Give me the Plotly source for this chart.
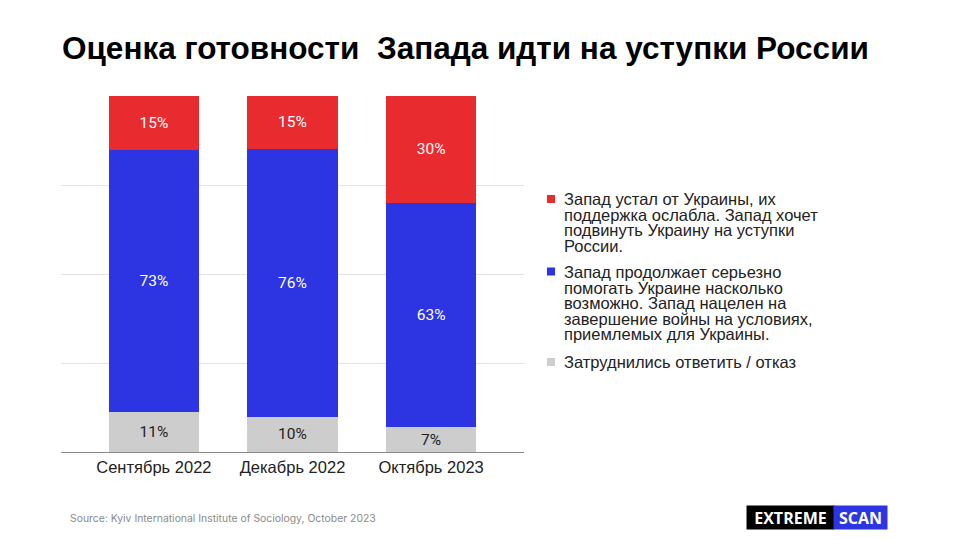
import plotly.graph_objects as go

categories = ["Сентябрь 2022", "Декабрь 2022", "Октябрь 2023"]
red_vals = [15, 15, 30]
blue_vals = [73, 76, 63]
gray_vals = [11, 10, 7]

red_lines = ["Запад устал от Украины, их", "поддержка ослабла. Запад хочет",
             "подвинуть Украину на уступки", "России."]
blue_lines = ["Запад продолжает серьезно", "помогать Украине насколько",
              "возможно. Запад нацелен на", "завершение войны на условиях,",
              "приемлемых для Украины."]
gray_lines = ["Затруднились ответить / отказ"]

RED = "#E82B2E"
BLUE = "#2D35E2"
GRAY = "#CDCDCD"

L, R, T, B = 61, 524, 96, 452
W, H = R - L, B - T


def px2x(px):
    return (px - L) / W


def py2y(py):
    return (B - py) / H


fig = go.Figure()
for lines, vals, color, tcolor in [
    (gray_lines, gray_vals, GRAY, "#222222"),
    (blue_lines, blue_vals, BLUE, "#FFFFFF"),
    (red_lines, red_vals, RED, "#FFFFFF"),
]:
    fig.add_trace(go.Bar(
        x=categories, y=vals, name=" ".join(lines),
        marker=dict(color=color, line=dict(width=0)),
        text=[f"{v}%" for v in vals], texttemplate="%{text}",
        textposition="inside", insidetextanchor="middle", textangle=0,
        textfont=dict(family="Roboto", size=15.5, color=tcolor),
        width=0.65, hoverinfo="skip", showlegend=False,
    ))

fig.update_layout(
    width=960, height=540,
    margin=dict(l=L, r=960 - R, t=T, b=540 - B, pad=0),
    paper_bgcolor="white", plot_bgcolor="white",
    barmode="stack", barnorm="percent",
    uniformtext=dict(mode=False),
    title=dict(
        text="<b>Оценка готовности  Запада идти на уступки России</b>",
        x=62 / 960, xanchor="left", xref="container",
        y=1 - 48 / 540, yanchor="middle", yref="container",
        font=dict(family="Liberation Sans, Arial, sans-serif", size=31.5, color="#000000"),
    ),
    xaxis=dict(
        range=[-0.67, 2.67], showgrid=False, showline=True, linecolor="#8a8a8a",
        linewidth=1, ticks="", tickfont=dict(family="Liberation Sans, Arial, sans-serif", size=16.5, color="#222222"),
        fixedrange=True,
    ),
    yaxis=dict(
        range=[0, 100], dtick=25, showticklabels=False, showgrid=True,
        gridcolor="#E3E3E3", gridwidth=1, zeroline=False, showline=False,
    ),
    showlegend=False,
)

# custom legend: base font 12 gives ~15.6px line spacing, glyphs drawn at 16.5px
for lines, color, y0 in [(red_lines, RED, 199), (blue_lines, BLUE, 271.5), (gray_lines, GRAY, 362)]:
    fig.add_shape(type="rect", xref="paper", yref="paper",
                  x0=px2x(547), x1=px2x(555), y0=py2y(y0 - 4), y1=py2y(y0 + 4),
                  fillcolor=color, line=dict(width=0))
    txt = "<br>".join(f'<span style="font-size:16.5px">{ln}</span>' for ln in lines)
    yc = y0 + (len(lines) - 1) * 15.6 / 2
    fig.add_annotation(
        text=txt, xref="paper", yref="paper", x=px2x(563), y=py2y(yc),
        xanchor="left", yanchor="middle", align="left", showarrow=False, borderpad=0,
        font=dict(family="Liberation Sans, Arial, sans-serif", size=12, color="#222222"),
    )

fig.add_annotation(
    text="Source: Kyiv International Institute of Sociology, October 2023",
    xref="paper", yref="paper", x=px2x(68), y=py2y(518), xanchor="left", yanchor="middle",
    showarrow=False, font=dict(family="Inter", size=10.4, color="#8a8a8a"),
)
fig.add_annotation(
    text="<b>EXTREME</b>", xref="paper", yref="paper", x=px2x(790.5), y=py2y(517.5),
    xanchor="center", yanchor="middle", showarrow=False, bgcolor="#000000",
    width=87, height=23, borderpad=0,
    font=dict(family="Open Sans", size=16, color="#FFFFFF"),
)
fig.add_annotation(
    text="<b>SCAN</b>", xref="paper", yref="paper", x=px2x(860.5), y=py2y(517.5),
    xanchor="center", yanchor="middle", showarrow=False, bgcolor=BLUE,
    width=53, height=23, borderpad=0,
    font=dict(family="Open Sans", size=16, color="#FFFFFF"),
)

fig.write_html("out.html")
